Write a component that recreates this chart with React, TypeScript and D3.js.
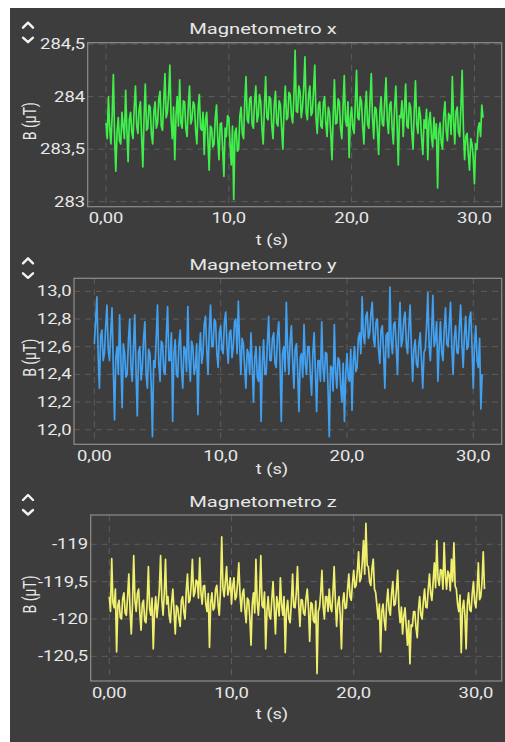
import React from 'react';
import * as d3 from 'd3';

// sample spacing of the logged data (s)
const DT = 0.1;

const xTicks = [0, 10, 20, 30];
const xTickLabels = ['0,00', '10,0', '20,0', '30,0'];

// Magnetometro x (µT)
const magX = [
  283.75, 283.6, 284.0, 283.7, 283.55, 283.82, 284.21, 283.62, 283.29, 283.66, 283.8, 283.58, 283.55, 283.85, 283.72, 283.6, 284.06, 283.68, 283.38, 283.78,
  283.85, 283.66, 283.6, 283.9, 284.1, 283.72, 283.65, 283.88, 283.95, 283.62, 283.33, 283.8, 284.12, 283.68, 283.7, 283.92, 283.9, 283.64, 283.55, 283.86,
  283.95, 283.7, 283.75, 283.98, 284.05, 283.72, 283.68, 283.95, 284.22, 283.8, 283.85, 284.02, 284.3, 283.78, 283.6, 283.9, 283.4, 283.82, 284.0, 283.72,
  284.16, 283.75, 283.7, 283.96, 283.95, 283.7, 283.62, 283.9, 284.1, 283.74, 283.78, 283.95, 283.92, 283.68, 283.55, 283.88, 284.02, 283.7, 283.68, 283.85,
  283.45, 283.78, 283.85, 283.58, 283.3, 283.72, 283.7, 283.52, 283.55, 283.8, 283.92, 283.6, 283.4, 283.74, 283.75, 283.5, 283.24, 283.7, 283.62, 283.82,
  283.8, 283.55, 283.35, 283.72, 283.02, 283.66, 283.7, 283.48, 283.5, 283.82, 283.9, 283.65, 283.6, 283.95, 284.19, 283.78, 283.75, 283.98, 284.0, 283.74,
  283.7, 283.95, 284.1, 283.76, 283.82, 284.02, 283.95, 283.7, 283.55, 283.9, 284.19, 283.8, 283.78, 284.0, 283.98, 283.72, 283.6, 283.92, 284.05, 283.75,
  283.72, 283.96, 283.92, 283.7, 283.5, 283.88, 284.1, 283.78, 283.8, 284.04, 284.02, 283.82, 283.75, 284.0, 284.44, 283.86, 283.85, 284.1, 284.05, 283.8,
  283.9, 284.08, 284.38, 283.85, 283.78, 284.02, 284.1, 283.82, 283.85, 284.06, 284.3, 283.8, 283.65, 283.92, 283.95, 283.72, 283.7, 283.94, 284.0, 283.75,
  283.62, 283.9, 283.85, 283.66, 283.4, 283.82, 284.16, 283.74, 283.75, 283.98, 283.95, 283.7, 283.6, 283.9, 284.2, 283.78, 283.72, 283.95, 283.42, 283.8,
  283.9, 283.7, 283.65, 283.94, 284.25, 283.8, 283.78, 284.0, 283.95, 283.72, 283.55, 283.88, 284.05, 283.74, 283.7, 283.96, 284.22, 283.8, 283.6, 283.9,
  283.88, 283.68, 283.45, 283.85, 284.0, 283.74, 283.72, 283.96, 284.18, 283.78, 283.65, 283.92, 283.95, 283.7, 283.55, 283.9, 284.1, 283.76, 283.35, 283.82,
  283.8, 283.96, 283.62, 283.88, 284.12, 283.72, 283.7, 283.94, 283.9, 283.66, 283.5, 283.86, 284.15, 283.74, 283.65, 283.9, 283.82, 283.6, 283.45, 283.78,
  283.7, 283.88, 283.4, 283.76, 283.85, 283.62, 283.52, 283.8, 283.6, 283.74, 283.13, 283.66, 283.75, 283.56, 283.5, 283.82, 283.95, 283.68, 283.58, 283.84,
  283.82, 283.64, 284.19, 283.78, 283.55, 283.86, 283.9, 283.66, 283.62, 283.9, 284.25, 283.7, 283.4, 283.62, 283.65, 283.45, 283.3, 283.6, 283.55, 283.42,
  283.17, 283.55, 283.5, 283.7, 283.75, 283.62, 283.92, 283.8,
];

// Magnetometro y (µT)
const magY = [
  12.62, 12.78, 12.96, 12.55, 12.3, 12.68, 12.72, 12.5, 12.55, 12.75, 12.9, 12.58, 12.5, 12.7, 12.88, 12.45, 12.07, 12.52, 12.6, 12.4,
  12.83, 12.5, 12.16, 12.62, 12.55, 12.38, 12.4, 12.65, 12.8, 12.45, 12.35, 12.6, 12.83, 12.42, 12.1, 12.56, 12.6, 12.36, 12.45, 12.66,
  12.78, 12.4, 12.3, 12.58, 12.55, 12.32, 11.95, 12.5, 12.45, 12.66, 12.9, 12.48, 12.35, 12.64, 12.62, 12.42, 12.4, 12.68, 12.89, 12.5,
  12.5, 12.7, 12.06, 12.55, 12.65, 12.4, 12.38, 12.62, 12.72, 12.44, 12.3, 12.6, 12.58, 12.42, 12.89, 12.5, 12.35, 12.64, 12.6, 12.4,
  12.45, 12.62, 12.11, 12.55, 12.7, 12.48, 12.55, 12.76, 12.82, 12.58, 12.4, 12.72, 12.9, 12.6, 12.6, 12.8, 12.78, 12.55, 12.45, 12.7,
  12.75, 12.58, 12.55, 12.78, 12.85, 12.6, 12.48, 12.7, 12.72, 12.52, 12.6, 12.78, 12.8, 12.55, 12.93, 12.62, 12.4, 12.66, 12.62, 12.45,
  12.3, 12.58, 12.55, 12.4, 12.7, 12.46, 12.2, 12.52, 12.6, 12.38, 12.35, 12.6, 12.06, 12.48, 12.65, 12.4, 12.4, 12.62, 12.82, 12.5,
  12.5, 12.66, 12.7, 12.48, 12.45, 12.68, 12.78, 12.5, 12.06, 12.55, 12.6, 12.42, 12.92, 12.58, 12.4, 12.64, 12.75, 12.5, 12.3, 12.58,
  12.62, 12.42, 12.13, 12.52, 12.55, 12.38, 12.76, 12.48, 12.4, 12.6, 12.6, 12.4, 12.25, 12.55, 12.7, 12.42, 12.13, 12.5, 12.5, 12.35,
  12.78, 12.45, 12.35, 12.56, 12.55, 12.3, 11.95, 12.46, 12.45, 12.28, 12.76, 12.42, 12.3, 12.52, 12.5, 12.32, 12.2, 12.48, 12.06, 12.4,
  12.55, 12.38, 12.35, 12.58, 12.14, 12.5, 12.6, 12.42, 12.45, 12.66, 12.7, 12.55, 12.96, 12.68, 12.62, 12.82, 12.85, 12.66, 12.7, 12.84,
  12.92, 12.66, 12.6, 12.78, 12.8, 12.58, 12.48, 12.72, 12.75, 12.56, 12.3, 12.68, 12.7, 12.52, 13.03, 12.64, 12.55, 12.76, 12.78, 12.6,
  12.4, 12.72, 12.92, 12.6, 12.65, 12.8, 12.85, 12.62, 12.55, 12.74, 12.9, 12.6, 12.35, 12.58, 12.65, 12.48, 12.45, 12.62, 12.7, 12.5,
  12.3, 12.56, 12.58, 12.74, 12.99, 12.62, 12.5, 12.7, 12.97, 12.6, 12.65, 12.78, 12.35, 12.6, 12.78, 12.56, 12.5, 12.72, 12.88, 12.62,
  12.6, 12.76, 12.92, 12.6, 12.4, 12.66, 12.75, 12.56, 12.55, 12.74, 12.9, 12.62, 12.45, 12.68, 12.82, 12.58, 12.6, 12.8, 12.85, 12.6,
  12.3, 12.62, 12.75, 12.5, 12.45, 12.66, 12.15, 12.4,
];

// Magnetometro z (µT)
const magZ = [
  -119.7, -119.9, -119.19, -119.78, -119.85, -119.6, -120.44, -119.82, -119.75, -119.98, -120.0, -119.72, -119.65, -119.92, -119.95, -119.7, -119.4, -119.88, -120.2, -119.8,
  -119.15, -119.75, -119.9, -119.66, -119.6, -119.92, -120.15, -119.8, -119.75, -120.02, -120.05, -119.78, -119.3, -119.86, -119.95, -119.72, -120.4, -119.9, -119.7, -119.98,
  -119.8, -119.6, -119.15, -119.74, -119.95, -119.66, -119.2, -119.8, -119.7, -119.95, -120.05, -119.78, -119.6, -119.9, -120.2, -119.82, -119.85, -120.0, -120.1, -119.76,
  -119.7, -119.9, -120.0, -119.62, -119.4, -119.78, -119.75, -119.55, -119.2, -119.7, -119.65, -119.48, -119.5, -119.72, -119.18, -119.64, -119.8, -119.56, -119.55, -119.8,
  -119.9, -119.66, -120.38, -119.78, -119.65, -119.88, -119.85, -119.6, -119.55, -119.8, -119.95, -119.62, -118.9, -119.58, -119.7, -119.5, -119.3, -119.68, -119.6, -119.45,
  -119.8, -119.56, -119.45, -119.74, -119.7, -119.52, -119.25, -119.68, -119.9, -119.66, -119.6, -119.88, -120.05, -119.72, -119.75, -119.98, -120.35, -119.8, -119.65, -119.92,
  -119.2, -119.76, -119.95, -119.68, -119.15, -119.82, -119.85, -119.64, -120.4, -119.9, -119.7, -119.96, -120.0, -119.74, -119.5, -119.86, -120.2, -119.7, -119.8, -119.96,
  -119.45, -119.8, -119.95, -119.7, -120.45, -119.88, -119.75, -120.0, -120.05, -119.78, -119.4, -119.84, -119.85, -119.66, -119.3, -119.8, -120.1, -119.74, -119.75, -119.92,
  -119.95, -119.72, -119.6, -119.86, -120.3, -119.78, -119.8, -120.02, -120.05, -119.76, -120.73, -119.9, -119.85, -119.66, -119.35, -119.82, -120.0, -119.7, -119.7, -119.9,
  -119.6, -119.84, -119.9, -119.66, -119.3, -119.76, -120.1, -119.8, -119.7, -119.95, -120.4, -119.78, -119.65, -119.86, -119.85, -119.6, -119.4, -119.7, -119.75, -119.52,
  -119.35, -119.58, -119.55, -119.36, -119.1, -119.5, -119.45, -119.24, -118.95, -119.4, -118.72, -119.28, -119.3, -119.5, -119.55, -119.32, -119.2, -119.6, -119.65, -119.82,
  -120.0, -119.8, -120.44, -119.9, -119.8, -120.02, -120.15, -119.78, -119.6, -119.88, -119.95, -119.66, -119.5, -119.82, -119.8, -119.6, -119.35, -119.86, -120.05, -119.84,
  -120.2, -119.96, -119.85, -120.1, -120.35, -120.02, -120.6, -120.08, -120.1, -119.9, -119.9, -120.12, -120.25, -119.88, -119.7, -119.95, -120.0, -119.76, -119.6, -119.84,
  -119.85, -119.6, -119.4, -119.66, -119.75, -119.5, -119.25, -119.58, -118.95, -119.46, -119.55, -119.34, -119.35, -119.6, -118.98, -119.42, -119.6, -119.36, -119.4, -119.62,
  -119.2, -119.5, -118.98, -119.56, -119.6, -119.8, -119.9, -119.68, -120.45, -119.86, -119.75, -119.96, -120.4, -119.8, -119.65, -119.88, -119.9, -119.66, -119.5, -119.78,
  -119.85, -119.62, -119.25, -119.74, -119.7, -119.5, -119.1, -119.6,
];

const yTicksX = [283, 283.5, 284, 284.5];
const yLabelsX = ['283', '283,5', '284', '284,5'];
const yTicksY = [12.0, 12.2, 12.4, 12.6, 12.8, 13.0];
const yLabelsY = ['12,0', '12,2', '12,4', '12,6', '12,8', '13,0'];
const yTicksZ = [-120.5, -120, -119.5, -119];
const yLabelsZ = ['-120,5', '-120', '-119,5', '-119'];

const panels = [
  {
    title: 'Magnetometro x', values: magX, color: '#40ef4a',
    yTicks: yTicksX, yLabels: yLabelsX,
    box: { left: 87.7, top: 42.7, right: 501.7, bottom: 206.7 },
    xDomain: [-1.49, 32.22], yDomain: [282.952, 284.514], xTitleDy: 38,
  },
  {
    title: 'Magnetometro y', values: magY, color: '#41a0f0',
    yTicks: yTicksY, yLabels: yLabelsY,
    box: { left: 74, top: 278.3, right: 501.7, bottom: 444.3 },
    xDomain: [-1.61, 32.25], yDomain: [11.895, 13.094], xTitleDy: 30,
  },
  {
    title: 'Magnetometro z', values: magZ, color: '#f0f06c',
    yTicks: yTicksZ, yLabels: yLabelsZ,
    box: { left: 90.7, top: 515, right: 501.7, bottom: 681 },
    xDomain: [-1.52, 32.11], yDomain: [-120.83, -118.608], xTitleDy: 38,
  },
];

const BG = '#3d3d3d';
const TEXT = '#e8e8e8';
const FONT = 'Roboto, "Noto Sans", sans-serif';
const SX = 1.3; // the screenshot is stretched horizontally

const Label = ({ x, y, size, anchor = 'middle', rotate = false, children }: any) => (
  <g transform={`translate(${x},${y}) scale(${SX},1)${rotate ? ' rotate(-90)' : ''}`}>
    <text textAnchor={anchor} fontSize={size} fill={TEXT} fontFamily={FONT}>{children}</text>
  </g>
);

const Panel = ({ p, idx }: any) => {
  const { box } = p;
  const x = d3.scaleLinear().domain(p.xDomain).range([box.left, box.right]);
  const y = d3.scaleLinear().domain(p.yDomain).range([box.bottom, box.top]);
  const line = d3.line<number>()
    .x((_, i) => x(i * DT))
    .y(d => y(d));
  const clipId = `clip-${idx}`;

  return (
    <g>
      <defs>
        <clipPath id={clipId}>
          <rect x={box.left} y={box.top} width={box.right - box.left} height={box.bottom - box.top} />
        </clipPath>
      </defs>

      {/* chevrons */}
      <path d={`M23,${box.top - 15} L28,${box.top - 20} L33,${box.top - 15}`}
        fill="none" stroke="#f2f2f2" strokeWidth={2.4} strokeLinecap="round" strokeLinejoin="round" />
      <path d={`M23,${box.top - 5} L28,${box.top - 0.5} L33,${box.top - 5}`}
        fill="none" stroke="#f2f2f2" strokeWidth={2.4} strokeLinecap="round" strokeLinejoin="round" />

      <Label x={263} y={box.top - 8.5} size={15.5}>{p.title}</Label>

      {/* grid */}
      {xTicks.map(t => (
        <line key={`gx-${t}`} x1={x(t)} x2={x(t)} y1={box.top} y2={box.bottom}
          stroke="#5e5e5e" strokeWidth={1} strokeDasharray="6,5" />
      ))}
      {p.yTicks.map((t: number) => (
        <line key={`gy-${t}`} x1={box.left} x2={box.right} y1={y(t)} y2={y(t)}
          stroke="#5e5e5e" strokeWidth={1} strokeDasharray="6,5" />
      ))}

      <path d={line(p.values) || ''} fill="none" stroke={p.color} strokeWidth={1.7}
        strokeLinejoin="round" clipPath={`url(#${clipId})`} />

      <rect x={box.left} y={box.top} width={box.right - box.left} height={box.bottom - box.top}
        fill="none" stroke="#8e8e8e" strokeWidth={1.2} />

      {/* y tick labels */}
      {p.yTicks.map((t: number, i: number) => (
        <Label key={`ly-${t}`} x={box.left - 2.5} y={y(t) + 5} size={14.2} anchor="end">{p.yLabels[i]}</Label>
      ))}
      {/* x tick labels */}
      {xTicks.map((t, i) => (
        <Label key={`lx-${t}`} x={x(t)} y={box.bottom + 16.5} size={14.2}>{xTickLabels[i]}</Label>
      ))}

      <Label x={272} y={box.bottom + p.xTitleDy} size={14}>t (s)</Label>
      <Label x={36} y={(box.top + box.bottom) / 2 - 3.5} size={14} rotate>B (µT)</Label>
    </g>
  );
};

export default function App() {
  return (
    <svg width={505} height={742} style={{ position: 'absolute', left: 0, top: 0, display: 'block' }}>
      <rect x={0} y={0} width={505} height={742} fill="#ffffff" />
      <rect x={10} y={8} width={495} height={734} fill={BG} />
      {panels.map((p, i) => <Panel key={p.title} p={p} idx={i} />)}
    </svg>
  );
}
